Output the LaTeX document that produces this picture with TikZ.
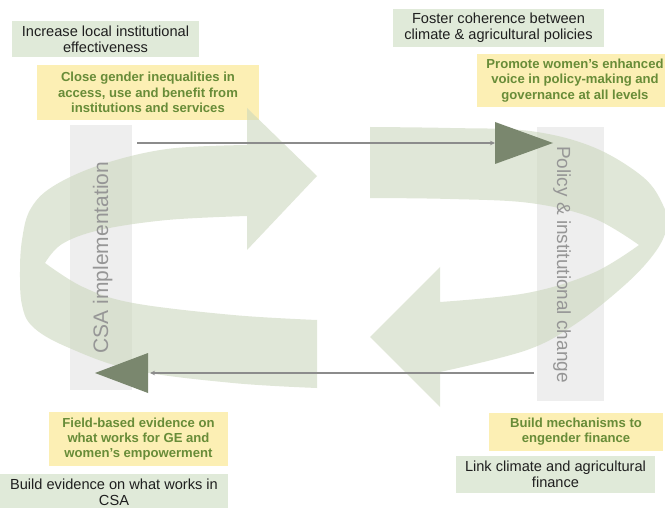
\documentclass[tikz,border=0pt]{standalone}
\usepackage{fontspec}
\setmainfont{Liberation Sans}
\usetikzlibrary{arrows.meta}
\definecolor{gboxc}{RGB}{224,234,217}
\definecolor{yboxc}{RGB}{252,239,180}
\definecolor{ytext}{RGB}{104,140,56}
\definecolor{bandc}{RGB}{203,215,188}
\definecolor{darktri}{RGB}{122,135,110}
\definecolor{barc}{RGB}{238,238,238}
\definecolor{bartext}{RGB}{150,150,150}
\definecolor{linec}{RGB}{140,140,140}
\begin{document}
\begin{tikzpicture}[x=1pt,y=-1pt,
  gbox/.style={fill=gboxc, inner sep=0pt, align=center, text=black!88, font=\fontsize{14.6}{16.4}\selectfont},
  ybox/.style={fill=yboxc, inner sep=0pt, align=center, text=ytext, font=\bfseries\fontsize{13.1}{15.2}\selectfont},
  band/.style={fill=bandc, fill opacity=0.58},
  bar/.style={fill=barc, inner sep=0pt},
  barlabel/.style={text=bartext, inner sep=0pt},
  tri/.style={fill=darktri},
  conn/.style={draw=linec, line width=1.1pt, -{Stealth[length=5pt,width=4.5pt]}}
]
\useasboundingbox (0,0) rectangle (665,508);
\fill[white] (0,0) rectangle (665,508);
\clip (0,0) rectangle (665,508);

% boxes
\node[gbox, minimum width=187pt, minimum height=36pt] (g1) at (105.5,39) {Increase local institutional\\effectiveness};
\node[ybox, minimum width=222pt, minimum height=55pt] (y1) at (148,92.5) {Close gender inequalities in\\access, use and benefit from\\institutions and services};
\node[gbox, minimum width=211pt, minimum height=38pt] (g2) at (498.5,28) {Foster coherence between\\climate \& agricultural policies};
\node[ybox, minimum width=196pt, minimum height=53pt] (y2) at (575,80.5) {Promote women's enhanced\\voice in policy-making and\\governance at all levels};
\node[ybox, minimum width=179pt, minimum height=54pt] (y3) at (138.5,439) {Field-based evidence on\\what works for GE and\\women's empowerment};
\node[gbox, minimum width=228pt, minimum height=36pt] (g3) at (114,492) {Build evidence on what works in\\CSA};
\node[ybox, minimum width=174pt, minimum height=38pt] (y4) at (576,432) {Build mechanisms to\\engender finance};
\node[gbox, minimum width=199pt, minimum height=37pt] (g4) at (555.5,474.5) {Link climate and agricultural\\finance};

% grey bars
\node[bar, minimum width=62pt, minimum height=265pt] (lb) at (101,257.5) {};
\node[bar, minimum width=67pt, minimum height=274pt] (rb) at (570.5,264) {};

% big curved arrows
\fill[band] (317,388) -- plot[smooth,tension=0.6] coordinates {(317,388) (233,383) (133,370) (67,347) (33,327) (22,305) (20,272) (22,240) (30,210) (52,187) (100,165) (167,149) (247,145)} -- (247,108) -- (317,176) -- (247,250) -- (247,216) -- plot[smooth,tension=0.6] coordinates {(247,216) (167,220) (100,230) (62,244) (45,263)} -- plot[smooth,tension=0.6] coordinates {(45,263) (83,287) (133,303) (233,315) (317,320)} -- cycle;

\fill[band] (370,127) -- plot[smooth,tension=0.6] coordinates {(370,127) (450,128) (530,131) (593,147) (643,177) (663,205) (667,226) (656,251) (627,283) (577,323) (527,350) (440,372)} -- (440,407) -- (370,337) -- (440,267) -- (440,302) -- plot[smooth,tension=0.6] coordinates {(440,302) (527,293) (593,273) (639,245)} -- plot[smooth,tension=0.6] coordinates {(639,245) (593,218) (530,203) (450,199) (370,198)} -- cycle;

% bar labels
\node[barlabel, font=\fontsize{21}{24}\selectfont, rotate=90, anchor=base] (lbl) at (108,257.5) {CSA implementation};
\node[barlabel, font=\fontsize{19}{22}\selectfont, rotate=-90, anchor=base] (rbl) at (557,264.5) {Policy \& institutional change};

% connectors
\coordinate (a1s) at (137,143);
\coordinate (a1e) at (495,143);
\draw[conn] (a1s) -- (a1e);
\coordinate (t1a) at (495,122);
\coordinate (t1b) at (553,143);
\coordinate (t1c) at (495,164);
\fill[tri] (t1a) -- (t1b) -- (t1c) -- cycle;

\coordinate (a2s) at (534,373);
\coordinate (a2e) at (150,373);
\draw[conn] (a2s) -- (a2e);
\coordinate (t2a) at (148,353);
\coordinate (t2b) at (95,373);
\coordinate (t2c) at (148,393);
\fill[tri] (t2a) -- (t2b) -- (t2c) -- cycle;
\end{tikzpicture}
\end{document}
